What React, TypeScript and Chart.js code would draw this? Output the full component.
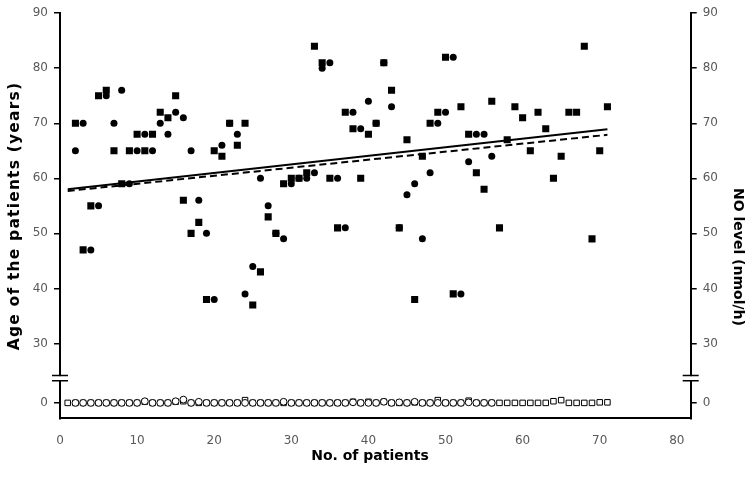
import React, { useEffect, useRef } from 'react';
import { Chart, registerables } from 'chart.js';

Chart.register(...registerables);

// ---------- data ----------
const squarePatients = [2, 3, 4, 5, 6, 7, 8, 9, 10, 11, 12, 13, 14, 15, 16, 17, 18, 19, 20, 21, 22, 23, 24, 25, 26, 27, 28, 29, 30, 31, 32, 33, 34, 35, 36, 37, 38, 39, 40, 41, 42, 43, 44, 45, 46, 47, 48, 49, 50, 51, 52, 53, 54, 55, 56, 57, 58, 59, 60, 61, 62, 63, 64, 65, 66, 67, 68, 69, 70, 71];
const squareAge = [70, 47, 55, 75, 76, 65, 59, 65, 68, 65, 68, 72, 71, 75, 56, 50, 52, 38, 65, 64, 70, 66, 70, 37, 43, 53, 50, 59, 60, 60, 61, 84, 81, 60, 51, 72, 69, 60, 68, 70, 81, 76, 51, 67, 38, 64, 70, 72, 82, 39, 73, 68, 61, 58, 74, 51, 67, 73, 71, 65, 72, 69, 60, 64, 72, 72, 84, 49, 65, 73];

const circlePatients = [2, 3, 4, 5, 6, 7, 8, 9, 10, 11, 12, 13, 14, 15, 16, 17, 18, 19, 20, 21, 22, 23, 24, 25, 26, 27, 28, 29, 30, 31, 32, 33, 34, 35, 36, 37, 38, 39, 40, 41, 42, 43, 44, 45, 46, 47, 48, 49, 50, 51, 52, 53, 54, 55, 56];
const circleAge = [65, 70, 47, 55, 75, 70, 76, 59, 65, 68, 65, 70, 68, 72, 71, 65, 56, 50, 38, 66, 70, 68, 39, 44, 60, 55, 50, 49, 59, 60, 60, 61, 80, 81, 60, 51, 72, 69, 74, 70, 81, 73, 51, 57, 59, 49, 61, 70, 72, 82, 39, 63, 68, 68, 64];

const noSquarePatients = [1, 2, 3, 4, 5, 6, 7, 8, 9, 10, 11, 12, 13, 14, 15, 16, 17, 18, 19, 20, 21, 22, 23, 24, 25, 26, 27, 28, 29, 30, 31, 32, 33, 34, 35, 36, 37, 38, 39, 40, 41, 42, 43, 44, 45, 46, 47, 48, 49, 50, 51, 52, 53, 54, 55, 56, 57, 58, 59, 60, 61, 62, 63, 64, 65, 66, 67, 68, 69, 70, 71];
const noSquareLevel = [0, 0, 0, 0, 0, 0, 0, 0, 0, 0, 0.2, 0, 0, 0, 0.2, 0.3, 0, 0, 0, 0, 0, 0, 0, 0.5, 0, 0, 0, 0, 0, 0, 0, 0, 0, 0, 0, 0, 0, 0.2, 0, 0.2, 0, 0.2, 0, 0, 0, 0.1, 0, 0, 0.5, 0, 0, 0, 0.4, 0, 0, 0, 0, 0, 0, 0, 0, 0, 0, 0.3, 0.5, 0, 0, 0, 0, 0.1, 0.1];

const noCirclePatients = [2, 3, 4, 5, 6, 7, 8, 9, 10, 11, 12, 13, 14, 15, 16, 17, 18, 19, 20, 21, 22, 23, 24, 25, 26, 27, 28, 29, 30, 31, 32, 33, 34, 35, 36, 37, 38, 39, 40, 41, 42, 43, 44, 45, 46, 47, 48, 49, 50, 51, 52, 53, 54, 55, 56];
const noCircleLevel = [0, 0, 0, 0, 0, 0, 0, 0, 0, 0.3, 0, 0, 0, 0.3, 0.6, 0, 0.2, 0, 0, 0, 0, 0, 0, 0, 0, 0, 0, 0.2, 0, 0, 0, 0, 0, 0, 0, 0, 0.1, 0, 0, 0, 0.2, 0, 0.1, 0, 0.2, 0, 0, 0, 0, 0, 0, 0.1, 0, 0, 0];

// trend lines (end points)
const trendX = [1, 71];
const trendSolid = [58.0, 68.9];
const trendDashed = [57.7, 67.9];

const xTicks = [0, 10, 20, 30, 40, 50, 60, 70, 80];
const yTicks = [0, 30, 40, 50, 60, 70, 80, 90];

// ---------- axis-break mapping ----------
const ZERO_AT = 19.2;   // where 0 sits below the break
const BREAK_AT = 23.7;  // where the break marks are drawn
const Y_MIN = 16.4;
const Y_MAX = 90;
const X_MAX = 81.8;

const toDisp = (v: number) => (v === 0 ? ZERO_AT : v);
const noToDisp = (v: number) => ZERO_AT + v;

const TICK_FONT = { family: '"DejaVu Sans", Verdana, sans-serif', size: 12 };
const TICK_COLOR = '#595959';

const decor = {
  id: 'decor',
  afterDraw(chart: any) {
    const { ctx, chartArea, scales } = chart;
    const yb = scales.y.getPixelForValue(BREAK_AT);
    ctx.save();
    for (const x of [chartArea.left, chartArea.right]) {
      ctx.fillStyle = '#ffffff';
      ctx.fillRect(x - 3, yb - 2, 6, 4);
      ctx.strokeStyle = '#000000';
      ctx.lineWidth = 1.6;
      ctx.beginPath();
      ctx.moveTo(x - 8, yb - 2.6);
      ctx.lineTo(x + 8, yb - 2.6);
      ctx.moveTo(x - 8, yb + 2.6);
      ctx.lineTo(x + 8, yb + 2.6);
      ctx.stroke();
    }
    ctx.fillStyle = '#000000';
    ctx.textAlign = 'center';
    ctx.textBaseline = 'middle';
    ctx.font = 'bold 14px "DejaVu Sans", Verdana, sans-serif';
    ctx.fillText('No. of patients', 370, 456);
    ctx.save();
    ctx.translate(738, 257);
    ctx.rotate(Math.PI / 2);
    ctx.fillText('NO level (nmol/h)', 0, 0);
    ctx.restore();
    ctx.save();
    ctx.font = 'bold 15.5px "DejaVu Sans", Verdana, sans-serif';
    (ctx as any).letterSpacing = '1.2px';
    ctx.translate(15, 216);
    ctx.rotate(-Math.PI / 2);
    ctx.fillText('Age of the patients (years)', 0, 0);
    ctx.restore();
    ctx.restore();
  },
};

export default function App() {
  const ref = useRef<HTMLCanvasElement | null>(null);

  useEffect(() => {
    document.body.style.margin = '0';
    const canvas = ref.current;
    if (!canvas) return;

    const pts = (xs: number[], ys: number[], f: (v: number) => number) =>
      xs.map((x, i) => ({ x, y: f(ys[i]) }));

    const yAxis = (position: 'left' | 'right', width: number) => ({
      type: 'linear' as const,
      position,
      min: Y_MIN,
      max: Y_MAX,
      afterBuildTicks: (axis: any) => {
        axis.ticks = yTicks.map((v) => ({ value: toDisp(v) }));
      },
      afterFit: (axis: any) => {
        axis.width = width;
      },
      ticks: {
        font: TICK_FONT,
        color: TICK_COLOR,
        padding: 6,
        callback: (value: number) => (Math.abs(value - ZERO_AT) < 1e-6 ? '0' : String(value)),
      },
      grid: {
        display: true,
        drawOnChartArea: false,
        drawTicks: true,
        tickLength: 6,
        color: '#000000',
        lineWidth: 1.5,
      },
      border: { display: true, color: '#000000', width: 2 },
    });

    const chart = new Chart(canvas, {
      type: 'scatter',
      data: {
        datasets: [
          {
            label: 'Trend (solid)',
            data: pts(trendX, trendSolid, (v) => v),
            showLine: true,
            borderColor: '#000000',
            borderWidth: 2,
            pointRadius: 0,
            order: 0,
            yAxisID: 'y',
          } as any,
          {
            label: 'Trend (dashed)',
            data: pts(trendX, trendDashed, (v) => v),
            showLine: true,
            borderColor: '#000000',
            borderWidth: 2,
            borderDash: [7, 4],
            pointRadius: 0,
            order: 1,
            yAxisID: 'y',
          } as any,
          {
            label: 'Age (circles)',
            data: pts(circlePatients, circleAge, (v) => v),
            pointStyle: 'circle',
            pointRadius: 3.5,
            backgroundColor: '#000000',
            borderColor: '#000000',
            borderWidth: 0,
            order: 2,
            yAxisID: 'y',
          },
          {
            label: 'Age (squares)',
            data: pts(squarePatients, squareAge, (v) => v),
            pointStyle: 'rect',
            pointRadius: 5,
            backgroundColor: '#000000',
            borderColor: '#000000',
            borderWidth: 0,
            order: 3,
            yAxisID: 'y',
          },
          {
            label: 'NO (circles)',
            data: pts(noCirclePatients, noCircleLevel, noToDisp),
            pointStyle: 'circle',
            pointRadius: 3.4,
            backgroundColor: '#ffffff',
            borderColor: '#000000',
            borderWidth: 1,
            order: 4,
            yAxisID: 'y2',
          },
          {
            label: 'NO (squares)',
            data: pts(noSquarePatients, noSquareLevel, noToDisp),
            pointStyle: 'rect',
            pointRadius: 3.9,
            backgroundColor: '#ffffff',
            borderColor: '#000000',
            borderWidth: 1,
            order: 5,
            yAxisID: 'y2',
          },
        ],
      },
      options: {
        responsive: false,
        animation: false,
        events: [],
        layout: { padding: { top: 9.3, left: 0, right: 0, bottom: 0 } },
        plugins: {
          legend: { display: false },
          tooltip: { enabled: false },
          title: { display: false },
        },
        scales: {
          x: {
            type: 'linear',
            min: 0,
            max: X_MAX,
            afterBuildTicks: (axis: any) => {
              axis.ticks = xTicks.map((v) => ({ value: v }));
            },
            afterFit: (axis: any) => {
              axis.height = 63.7;
            },
            ticks: { font: TICK_FONT, color: TICK_COLOR, padding: 15.5, maxRotation: 0 },
            grid: { display: false, drawTicks: false },
            border: { display: true, color: '#000000', width: 2 },
          },
          y: yAxis('left', 60),
          y2: yAxis('right', 59.3),
        },
      },
      plugins: [decor],
    });

    return () => chart.destroy();
  }, []);

  return <canvas ref={ref} width={750} height={482} style={{ display: 'block' }} />;
}
